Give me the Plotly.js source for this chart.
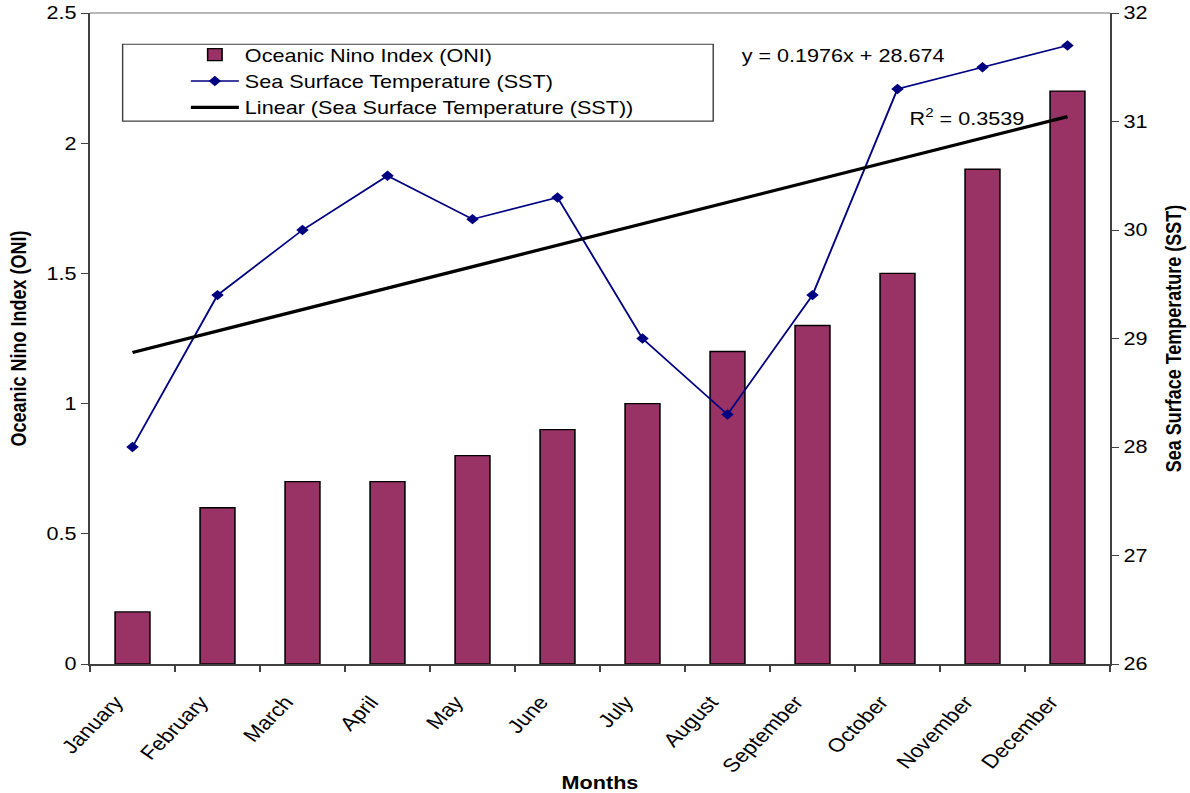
<!DOCTYPE html>
<html>
<head>
<meta charset="utf-8">
<script src="https://cdn.plot.ly/plotly-3.0.1.min.js"></script>
<style>
  html, body { margin: 0; padding: 0; background: #fff; overflow: hidden; }
  /* the chart is laid out at 992px and widened to fill the 1190px page */
  #chart { width: 992px; height: 793px; transform: scaleX(1.2); transform-origin: 0 0; }
</style>
</head>
<body>
<div id="chart"></div>
<script>
// Monthly categories
const months = ["January", "February", "March", "April", "May", "June",
                "July", "August", "September", "October", "November", "December"];

// Oceanic Nino Index (left axis)
const oniValues = [0.2, 0.6, 0.7, 0.7, 0.8, 0.9, 1.0, 1.2, 1.3, 1.5, 1.9, 2.2];

// Sea Surface Temperature (right axis, °C)
const sstValues = [28.0, 29.4, 30.0, 30.5, 30.1, 30.3, 29.0, 28.3, 29.4, 31.3, 31.5, 31.7];

// Linear trend of SST as stated in the equation label
const trendSlope = 0.1976;
const trendIntercept = 28.674;
const trendR2 = 0.3539;

const trendValues = months.map((m, i) => trendSlope * (i + 1) + trendIntercept);

const FONT = "Liberation Sans, Arial, sans-serif";

const traces = [
  {
    type: "bar",
    name: "Oceanic Nino Index (ONI)",
    x: months,
    y: oniValues,
    yaxis: "y",
    marker: { color: "#993366", line: { color: "#000000", width: 1.3 } },
    width: 0.41
  },
  {
    type: "scatter",
    mode: "lines+markers",
    name: "Sea Surface Temperature (SST)",
    x: months,
    y: sstValues,
    yaxis: "y2",
    line: { color: "#000080", width: 1.6 },
    marker: { symbol: "diamond", size: 8, color: "#000080" }
  },
  {
    type: "scatter",
    mode: "lines",
    name: "Linear (Sea Surface Temperature (SST))",
    x: months,
    y: trendValues,
    yaxis: "y2",
    line: { color: "#000000", width: 3.2 }
  }
];

const layout = {
  width: 992,
  height: 793,
  margin: { l: 75, r: 67, t: 13, b: 129 },
  paper_bgcolor: "#ffffff",
  plot_bgcolor: "#ffffff",
  font: { family: FONT, size: 18, color: "#000000" },
  showlegend: true,
  xaxis: {
    type: "category",
    range: [-0.5, 11.5],
    tickangle: -50,
    tickson: "boundaries",
    ticks: "outside",
    ticklen: 6,
    tickcolor: "#404040",
    ticklabelstandoff: 18,
    ticklabelshift: -14,
    showline: true,
    linecolor: "#404040",
    linewidth: 1.5,
    showgrid: false,
    zeroline: false,
    tickfont: { family: FONT, size: 19 },
    title: { text: "<b>Months</b>", font: { family: FONT, size: 18 }, standoff: 10 }
  },
  yaxis: {
    range: [0, 2.5],
    dtick: 0.5,
    tick0: 0,
    ticks: "outside",
    ticklen: 6,
    tickcolor: "#404040",
    showline: true,
    linecolor: "#404040",
    linewidth: 1.6,
    showgrid: false,
    zeroline: false,
    tickfont: { family: FONT, size: 18 },
    title: { text: "<b>Oceanic Nino Index (ONI)</b>", font: { family: FONT, size: 18 }, standoff: 12 }
  },
  yaxis2: {
    overlaying: "y",
    side: "right",
    range: [26, 32],
    dtick: 1,
    tick0: 26,
    ticks: "outside",
    ticklen: 6,
    tickcolor: "#404040",
    showline: true,
    linecolor: "#404040",
    linewidth: 1.6,
    showgrid: false,
    zeroline: false,
    tickfont: { family: FONT, size: 18 },
    title: { text: "<b>Sea Surface Temperature (SST)</b>", font: { family: FONT, size: 18 }, standoff: 16 }
  },
  legend: {
    x: 0.093,
    y: 0.964,
    xanchor: "left",
    yanchor: "top",
    bgcolor: "rgba(0,0,0,0)",
    borderwidth: 0,
    font: { family: FONT, size: 18 },
    itemwidth: 40,
    tracegroupgap: 0
  },
  shapes: [
    // plot-area top border
    { type: "line", xref: "paper", yref: "paper", x0: 0, x1: 1, y0: 1, y1: 1,
      line: { color: "#a0a0a0", width: 1.5 } },
    // legend frame
    { type: "rect", xref: "paper", yref: "paper", x0: 0.032, x1: 0.611, y0: 0.834, y1: 0.952,
      line: { color: "#404040", width: 1.2 }, fillcolor: "rgba(0,0,0,0)" }
  ],
  annotations: [
    { xref: "paper", yref: "paper", x: 0.738, y: 0.934, xanchor: "center", yanchor: "middle",
      showarrow: false, text: "y = " + trendSlope + "x + " + trendIntercept,
      font: { family: FONT, size: 18 } },
    { xref: "paper", yref: "paper", x: 0.86, y: 0.839, xanchor: "center", yanchor: "middle",
      showarrow: false, text: "R<sup>2</sup> = " + trendR2,
      font: { family: FONT, size: 18 } }
  ]
};

Plotly.newPlot("chart", traces, layout, { displayModeBar: false, staticPlot: true });
</script>
</body>
</html>
